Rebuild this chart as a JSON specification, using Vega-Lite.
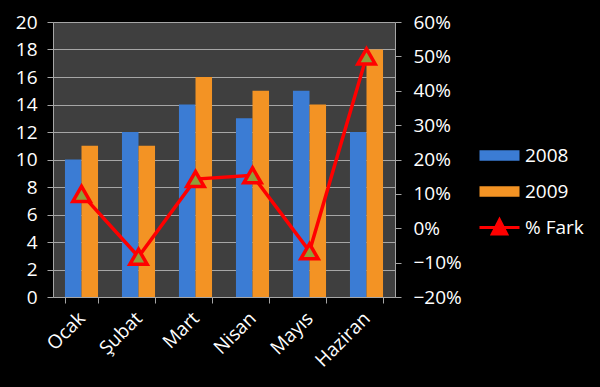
{
  "$schema": "https://vega.github.io/schema/vega-lite/v6.json",
  "width": 342,
  "height": 275,
  "autosize": {"type": "none"},
  "padding": {"left": 53, "top": 22, "right": 205, "bottom": 90},
  "background": "#000000",
  "config": {
    "view": {"fill": "#3f3f3f", "stroke": null},
    "font": "Open Sans",
    "axis": {
      "labelColor": "#ffffff",
      "labelFont": "Open Sans",
      "labelFontSize": 19,
      "domainColor": "#a6a6a6",
      "tickColor": "#a6a6a6",
      "tickSize": 6,
      "labelPadding": 8,
      "title": null
    },
    "legend": {"labelColor": "#ffffff", "labelFont": "Open Sans", "labelFontSize": 19}
  },
  "datasets": {
    "bars": [
      {"ay": "Ocak", "seri": "2008", "deger": 10},
      {"ay": "Ocak", "seri": "2009", "deger": 11},
      {"ay": "Şubat", "seri": "2008", "deger": 12},
      {"ay": "Şubat", "seri": "2009", "deger": 11},
      {"ay": "Mart", "seri": "2008", "deger": 14},
      {"ay": "Mart", "seri": "2009", "deger": 16},
      {"ay": "Nisan", "seri": "2008", "deger": 13},
      {"ay": "Nisan", "seri": "2009", "deger": 15},
      {"ay": "Mayıs", "seri": "2008", "deger": 15},
      {"ay": "Mayıs", "seri": "2009", "deger": 14},
      {"ay": "Haziran", "seri": "2008", "deger": 12},
      {"ay": "Haziran", "seri": "2009", "deger": 18}
    ],
    "fark": [
      {"ay": "Ocak", "fark": 0.10},
      {"ay": "Şubat", "fark": -0.083},
      {"ay": "Mart", "fark": 0.143},
      {"ay": "Nisan", "fark": 0.154},
      {"ay": "Mayıs", "fark": -0.067},
      {"ay": "Haziran", "fark": 0.50}
    ]
  },
  "layer": [
    {
      "data": {"name": "bars"},
      "mark": {"type": "bar"},
      "encoding": {
        "x": {
          "field": "ay",
          "type": "nominal",
          "sort": ["Ocak", "Şubat", "Mart", "Nisan", "Mayıs", "Haziran"],
          "scale": {"paddingInner": 0.42, "paddingOuter": 0.21},
          "axis": {"labelAngle": -45, "labelAlign": "right", "labelBaseline": "middle", "tickBand": "extent", "labelPadding": 12}
        },
        "xOffset": {"field": "seri", "type": "nominal", "sort": ["2008", "2009"]},
        "y": {
          "field": "deger",
          "type": "quantitative",
          "scale": {"domain": [0, 20], "nice": false},
          "axis": {"values": [0, 2, 4, 6, 8, 10, 12, 14, 16, 18, 20], "grid": true, "gridColor": "#a6a6a6", "gridWidth": 1, "orient": "left", "labelPadding": 10}
        },
        "color": {
          "field": "seri",
          "type": "nominal",
          "scale": {
            "domain": ["2008", "2009", "% Fark"],
            "range": ["#3b7cd4", "#f39324", "#ff0000"]
          },
          "legend": {
            "title": null,
            "orient": "none",
            "legendX": 425,
            "legendY": 112,
            "rowPadding": 3,
            "symbolSize": 1600,
            "labelOffset": 4,
            "symbolStrokeWidth": 0,
            "encode": {
              "symbols": {
                "update": {
                  "shape": {"signal": "datum.value === '% Fark' ? 'M-1,0H1M-0.36,0.32L0,-0.38L0.36,0.32Z' : 'M-1,-0.26H1V0.26H-1Z'"},
                  "stroke": {"signal": "datum.value === '% Fark' ? '#ff0000' : 'transparent'"},
                  "strokeWidth": {"value": 3}
                }
              }
            }
          }
        }
      }
    },
    {
      "data": {"name": "fark"},
      "encoding": {
        "x": {"field": "ay", "type": "nominal", "sort": ["Ocak", "Şubat", "Mart", "Nisan", "Mayıs", "Haziran"]},
        "y": {
          "field": "fark",
          "type": "quantitative",
          "scale": {"domain": [-0.2, 0.6], "nice": false},
          "axis": {"orient": "right", "format": ".0%", "values": [-0.2, -0.1, 0, 0.1, 0.2, 0.3, 0.4, 0.5, 0.6], "grid": false, "labelPadding": 12}
        }
      },
      "layer": [
        {"mark": {"type": "line", "color": "#ff0000", "strokeWidth": 3.5}},
        {"mark": {"type": "point", "shape": "triangle-up", "filled": true, "fill": "#8f9f3a", "stroke": "#ff0000", "strokeWidth": 3.5, "size": 300, "opacity": 1}}
      ]
    }
  ],
  "resolve": {"scale": {"y": "independent"}}
}
